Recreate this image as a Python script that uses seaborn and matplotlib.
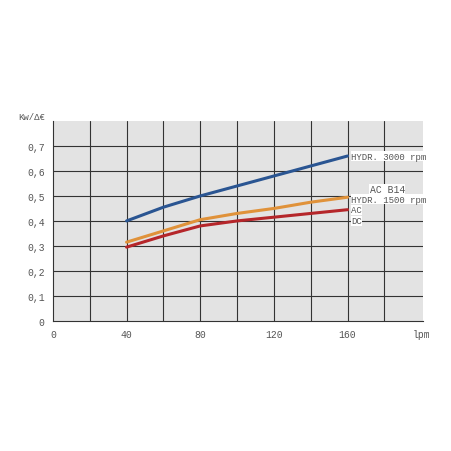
import matplotlib
matplotlib.use("Agg")
import matplotlib.pyplot as plt
import seaborn as sns
import pandas as pd

flow    = [40, 60, 80, 100, 120, 140, 160]
hydr3000 = [0.40, 0.455, 0.50, 0.54, 0.58, 0.62, 0.66]
acb14    = [0.315, 0.36, 0.405, 0.43, 0.45, 0.475, 0.495]
ac_dc    = [0.295, 0.34, 0.38, 0.40, 0.415, 0.43, 0.445]

xticks  = [0, 40, 80, 120, 160, 200]
xlabels = ["0", "40", "80", "120", "160", "lpm"]
yticks  = [0, 0.1, 0.2, 0.3, 0.4, 0.5, 0.6, 0.7]
ylabels = ["0", "0,1", "0,2", "0,3", "0,4", "0,5", "0,6", "0,7"]

df = pd.DataFrame({"x": flow * 3,
                   "y": hydr3000 + acb14 + ac_dc,
                   "s": ["h"] * 7 + ["b"] * 7 + ["a"] * 7})

sns.set_style("white")
plt.rcParams['font.family'] = ['Liberation Mono', 'DejaVu Sans Mono']

fig = plt.figure(figsize=(4.52, 4.52), dpi=100)
ax = fig.add_axes([0.117, 0.288, 0.819, 0.442])
ax.set_facecolor("#e3e3e3")

sns.lineplot(data=df, x="x", y="y", hue="s",
             palette={"h": "#2a5592", "b": "#e0923a", "a": "#b5262a"},
             linewidth=2.2, legend=False, ax=ax)

for gx in range(20, 200, 20):
    ax.axvline(gx, color="#333333", lw=0.8, zorder=0)
for gy in yticks[1:]:
    ax.axhline(gy, color="#333333", lw=0.8, zorder=0)

ax.set_xlim(0, 201)
ax.set_ylim(0, 0.8)
ax.set_xticks(xticks)
ax.set_xticklabels(xlabels)
ax.set_yticks(yticks)
ax.set_yticklabels(ylabels)
ax.tick_params(labelsize=7, colors="#555555", length=0, pad=6)
ax.set_xlabel("")
ax.set_ylabel("")
for s in ax.spines.values():
    s.set_visible(False)
ax.spines["left"].set_visible(True)
ax.spines["left"].set_color("#333333")
ax.spines["bottom"].set_visible(True)
ax.spines["bottom"].set_color("#333333")

fig.text(0.04, 0.735, "Kw/Δ€", fontsize=6.5, color="#555555")
tk = dict(fontsize=6.5, color="#555555", ha="left", va="center",
          bbox=dict(facecolor="white", edgecolor="none", pad=0.3))
ax.text(162, 0.66, "HYDR. 3000 rpm", **tk)
ax.text(172, 0.528, "AC B14", fontsize=7, color="#555555", ha="left", va="center",
        bbox=dict(facecolor="white", edgecolor="none", pad=0.3))
ax.text(162, 0.487, "HYDR. 1500 rpm", **tk)
ax.text(162, 0.444, "AC", **tk)
ax.text(162, 0.40, "DC", **tk)

fig.savefig("out.png", dpi=100)
